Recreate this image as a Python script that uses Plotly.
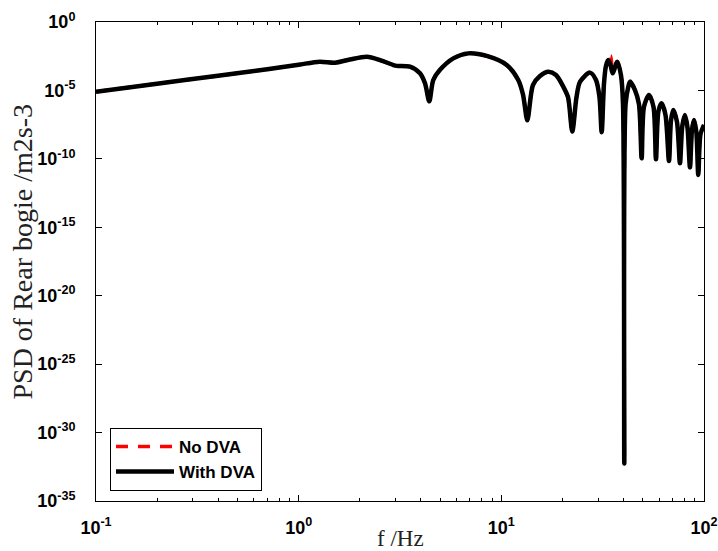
import plotly.graph_objects as go

# Frequencies (Hz)
freq = [0.1, 0.2, 0.4, 0.7, 1.0, 1.27, 1.51, 1.79, 2.17, 2.52, 2.93, 3.045, 3.543,
        3.968, 4.201, 4.411, 4.616, 4.982, 5.794, 6.871, 8.468, 10.63, 12.12, 12.79,
        13.43, 14.01, 14.33, 15.51, 17.05, 18.61, 20.22, 21.33, 22.39, 23.49, 24.44,
        27.38, 29.31, 30.50, 31.27, 32.10, 32.84, 33.71, 34.64, 35.44, 37.34, 38.95,
        39.84, 40.43, 41.03, 42.31, 43.14, 45.64, 47.76, 49.25, 50.56, 53.52, 56.33,
        57.95, 59.61, 61.82, 64.57, 67.18, 68.72, 70.54, 73.56, 76.11, 78.14, 80.56,
        82.89, 85.27, 87.23, 89.24, 91.62, 93.71, 96.09, 100.0]

# PSD with DVA (m2s-3)
psd_with = [8.1e-6, 3.1e-5, 1.17e-4, 3.5e-4, 7.6e-4, 1.26e-3, 1.07e-3, 1.82e-3, 2.9e-3,
            1.66e-3, 7.2e-4, 6.2e-4, 5.4e-4,
            1.78e-4, 3.3e-5, 1.6e-6, 5.8e-5, 3.2e-4, 2.2e-3, 5.1e-3, 3.3e-3, 7.2e-4,
            5.8e-5, 5.0e-6,
            6.5e-8, 5.0e-6, 2.5e-5, 1.12e-4, 2.3e-4, 1.35e-4, 1.86e-5, 3.2e-6, 1.0e-8,
            3.2e-6, 4.2e-5,
            2.0e-4, 5.8e-5, 3.2e-6, 8.9e-9, 3.2e-5, 6.3e-4, 1.66e-3, 6.3e-4, 1.8e-4,
            1.26e-3, 1.26e-4,
            1.0e-6, 5.6e-33, 1.0e-6, 1.86e-5, 4.4e-5, 1.07e-5, 1.0e-6, 1.1e-10, 6.3e-7,
            4.7e-6, 6.3e-7,
            9.3e-11, 3.2e-7, 1.15e-6, 1.6e-7, 6.9e-11, 6.3e-8, 3.7e-7, 5.0e-8,
            4.8e-11, 2.5e-8, 1.6e-7,
            2.0e-8, 2.4e-11, 1.26e-8, 6.9e-8, 1.0e-8, 6.6e-12, 6.3e-9, 3.0e-8]

# PSD without DVA (m2s-3)
psd_no = [8.1e-6, 3.1e-5, 1.17e-4, 3.5e-4, 7.6e-4, 1.26e-3, 1.07e-3, 1.82e-3, 2.9e-3,
          1.66e-3, 7.2e-4, 6.2e-4, 5.4e-4,
          1.78e-4, 3.3e-5, 1.6e-6, 5.8e-5, 3.2e-4, 2.2e-3, 5.1e-3, 3.3e-3, 7.2e-4,
          5.8e-5, 5.0e-6,
          6.5e-8, 5.0e-6, 2.5e-5, 1.12e-4, 2.3e-4, 1.35e-4, 1.86e-5, 3.2e-6, 1.0e-8,
          3.2e-6, 4.2e-5,
          2.0e-4, 5.8e-5, 3.2e-6, 8.9e-9, 3.2e-5, 6.3e-4, 2.0e-3, 3.3e-3, 2.0e-4,
          1.26e-3, 1.26e-4,
          1.0e-6, 5.6e-33, 1.0e-6, 1.86e-5, 4.4e-5, 1.07e-5, 1.0e-6, 1.1e-10, 6.3e-7,
          4.7e-6, 6.3e-7,
          9.3e-11, 3.2e-7, 1.15e-6, 1.6e-7, 6.9e-11, 6.3e-8, 3.7e-7, 5.0e-8,
          4.8e-11, 2.5e-8, 1.6e-7,
          2.0e-8, 2.4e-11, 1.26e-8, 6.9e-8, 1.0e-8, 6.6e-12, 6.3e-9, 3.0e-8]

x_tickvals = [0.1, 1, 10, 100]
x_ticktext = ["10<sup>-1</sup>", "10<sup>0</sup>", "10<sup>1</sup>", "10<sup>2</sup>"]
y_tickvals = [1e0, 1e-5, 1e-10, 1e-15, 1e-20, 1e-25, 1e-30, 1e-35]
y_ticktext = ["10<sup>0</sup>", "10<sup>-5</sup>", "10<sup>-10</sup>", "10<sup>-15</sup>",
              "10<sup>-20</sup>", "10<sup>-25</sup>", "10<sup>-30</sup>", "10<sup>-35</sup>"]
x_minor = [0.2, 0.3, 0.4, 0.5, 0.6, 0.7, 0.8, 0.9,
           2, 3, 4, 5, 6, 7, 8, 9,
           20, 30, 40, 50, 60, 70, 80, 90]

fig = go.Figure()
fig.add_trace(go.Scatter(x=freq, y=psd_no, mode="lines", name="No DVA",
                         line=dict(color="#ff0000", width=3.5, dash="12px,10px",
                                   shape="spline", smoothing=0.8)))
fig.add_trace(go.Scatter(x=freq, y=psd_with, mode="lines", name="With DVA",
                         line=dict(color="#000000", width=4.5,
                                   shape="spline", smoothing=0.8)))

tickfont = dict(family="Arial, Liberation Sans, sans-serif", size=18, color="black", weight="bold")
serif = "Times New Roman, Liberation Serif, serif"

fig.update_layout(
    width=718, height=551,
    margin=dict(l=96, r=14, t=22, b=50),
    paper_bgcolor="white", plot_bgcolor="white",
    showlegend=True,
    legend=dict(x=0.023, y=0.021, xanchor="left", yanchor="bottom",
                bgcolor="white", bordercolor="black", borderwidth=1,
                font=dict(family="Arial, Liberation Sans, sans-serif", size=17,
                          color="black", weight="bold"),
                tracegroupgap=0, itemwidth=58),
    xaxis=dict(type="log", range=[-1, 2], tickmode="array", tickvals=x_tickvals,
               ticktext=x_ticktext, ticks="inside", ticklen=6, tickcolor="black",
               showline=True, linecolor="black", linewidth=1, mirror="ticks",
               showgrid=False, zeroline=False, tickfont=tickfont,
               ticklabelstandoff=10, automargin=False, ticklabeloverflow="allow",
               minor=dict(tickmode="array", tickvals=x_minor, ticks="inside",
                          ticklen=3, tickcolor="black", showgrid=False)),
    yaxis=dict(type="log", range=[-35, 0], tickmode="array", tickvals=y_tickvals,
               ticktext=y_ticktext, ticks="inside", ticklen=6, tickcolor="black",
               showline=True, linecolor="black", linewidth=1, mirror="ticks",
               showgrid=False, zeroline=False, tickfont=tickfont,
               ticklabelstandoff=16, automargin=False, ticklabeloverflow="allow"),
    annotations=[
        dict(text="f /Hz", xref="paper", yref="paper", x=0.5, y=0,
             xanchor="center", yanchor="middle", yshift=-37, showarrow=False,
             font=dict(family=serif, size=23, color="#222")),
        dict(text="PSD of Rear bogie /m2s-3", xref="paper", yref="paper", x=0, y=0.5,
             xanchor="center", yanchor="middle", xshift=-74, yshift=10,
             textangle=-90, showarrow=False,
             font=dict(family=serif, size=28, color="#222")),
    ],
)

fig.write_html("out.html", config={"displayModeBar": False},
               post_script="document.body.style.margin='0px';document.body.style.overflow='hidden';")
